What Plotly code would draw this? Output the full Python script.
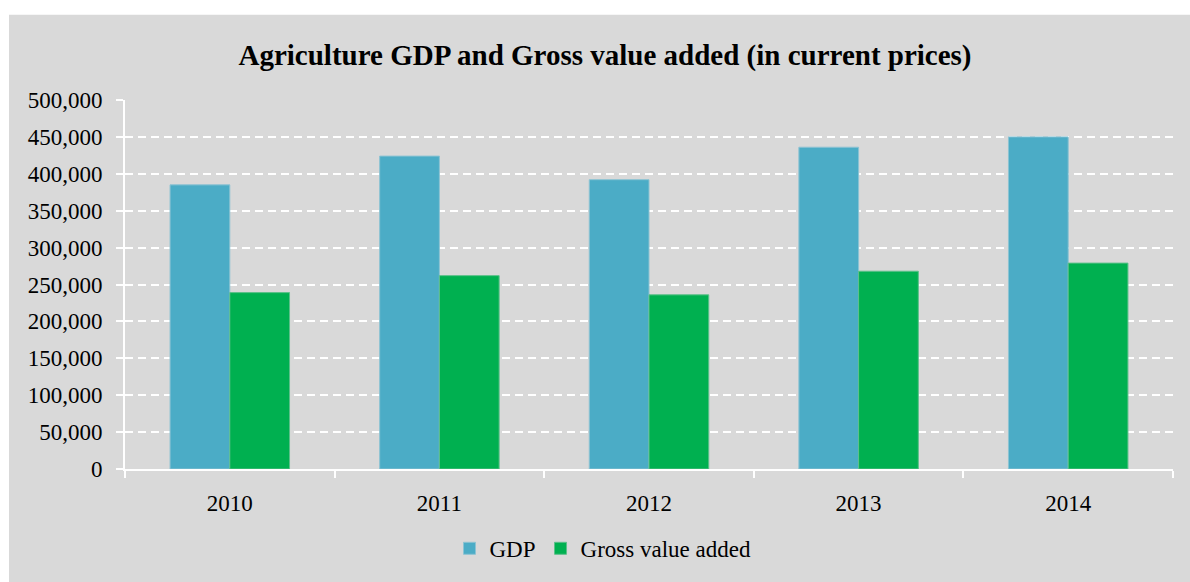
import plotly.graph_objects as go

# Agriculture GDP and gross value added, current prices
years = ["2010", "2011", "2012", "2013", "2014"]
gdp = [385000, 424000, 392000, 436000, 450000]
gross_value_added = [239000, 262000, 236000, 268000, 279000]
y_ticks = [0, 50000, 100000, 150000, 200000, 250000, 300000, 350000, 400000, 450000, 500000]

FONT = "Liberation Serif"
PANEL = "#d9d9d9"

fig = go.Figure()
fig.add_trace(go.Bar(
    name="GDP", x=years, y=gdp,
    marker=dict(color="#4bacc6", line=dict(color="#8cc3d3", width=1)),
))
fig.add_trace(go.Bar(
    name="Gross value added", x=years, y=gross_value_added,
    marker=dict(color="#00b050", line=dict(color="#5cc08a", width=1)),
))

W, H = 1190, 582
L, R, T, B = 125, 17, 100, 110
pw, ph = W - L - R, H - T - B

def px_x(p):
    return (p - L) / pw

def px_y(p):
    return (H - B - p) / ph

fig.update_layout(
    width=W, height=H,
    margin=dict(l=L, r=R, t=T, b=B),
    paper_bgcolor="white",
    plot_bgcolor="rgba(0,0,0,0)",
    barmode="group",
    bargap=0.43,
    bargroupgap=0,
    font=dict(family=FONT, size=23, color="black"),
    title=dict(
        text="<b>Agriculture GDP and Gross value added (in current prices)</b>",
        x=605 / W, xanchor="center", xref="container",
        y=1 - 55 / H, yanchor="middle", yref="container",
        font=dict(family=FONT, size=29, color="black"),
    ),
    showlegend=True,
    legend=dict(
        orientation="h",
        x=px_x(603), xanchor="center",
        y=px_y(552), yanchor="middle",
        font=dict(family=FONT, size=23, color="black"),
        bgcolor="rgba(0,0,0,0)",
        itemwidth=30,
        traceorder="normal",
    ),
    shapes=[dict(
        type="rect", xref="paper", yref="paper", layer="below",
        x0=px_x(9), x1=px_x(W + 5), y0=px_y(H + 5), y1=px_y(14),
        fillcolor=PANEL, line=dict(width=0),
    )],
)

fig.update_yaxes(
    range=[0, 500000],
    tickvals=y_ticks,
    tickformat=",d",
    showgrid=True, gridcolor="white", gridwidth=2, griddash="8px,5px",
    showline=True, linecolor="white", linewidth=2,
    ticks="outside", ticklen=7, tickcolor="white", tickwidth=2,
    ticklabelstandoff=9,
    zeroline=False,
    tickfont=dict(family=FONT, size=23, color="black"),
)
fig.update_xaxes(
    showgrid=False,
    showline=True, linecolor="white", linewidth=2,
    ticks="outside", ticklen=7, tickcolor="white", tickwidth=2,
    tickson="boundaries",
    ticklabelstandoff=12,
    tickfont=dict(family=FONT, size=23, color="black"),
)

fig.write_html("out.html")
